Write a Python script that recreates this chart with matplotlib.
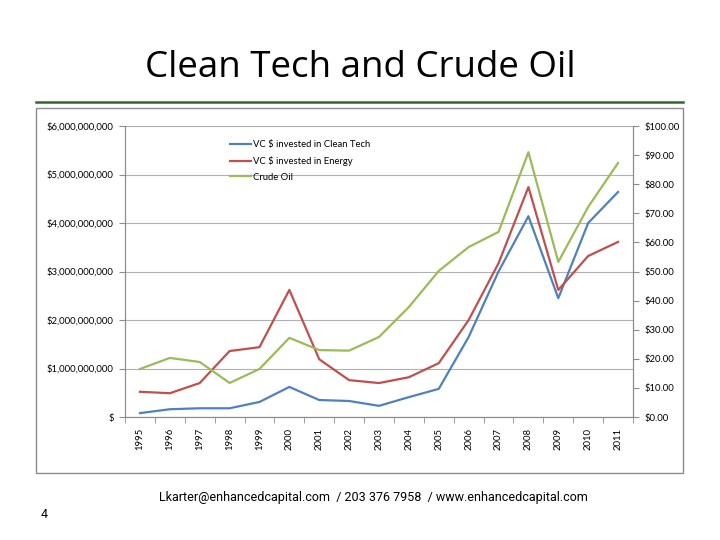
import matplotlib.pyplot as plt
from matplotlib.patches import Rectangle
from matplotlib.lines import Line2D
from matplotlib.ticker import FuncFormatter

years = [str(y) for y in range(1995, 2012)]
# VC $ invested, billions
clean_tech = [0.08, 0.16, 0.18, 0.18, 0.31, 0.62, 0.35, 0.33, 0.23, 0.41, 0.58,
              1.65, 3.0, 4.14, 2.45, 4.0, 4.64]
energy = [0.52, 0.49, 0.70, 1.36, 1.44, 2.62, 1.19, 0.76, 0.70, 0.82, 1.11,
          2.0, 3.17, 4.74, 2.62, 3.32, 3.61]
# crude oil price, $ per barrel
crude_oil = [16.5, 20.3, 18.9, 11.7, 16.5, 27.2, 23.0, 22.8, 27.5, 37.8, 50.2,
             58.4, 63.6, 91.0, 53.3, 72.2, 87.3]

plt.rcParams['font.family'] = ['Lato', 'DejaVu Sans']

fig = plt.figure(figsize=(7.2, 5.4), dpi=100)

# tytul slajdu
fig.text(360 / 720, 1 - 68 / 540, 'Clean Tech and Crude Oil', ha='center', va='center',
         fontsize=26.5, family=['Open Sans', 'DejaVu Sans'])
fig.add_artist(Line2D([36 / 720, 683 / 720], [1 - 102 / 540] * 2, color='#2E6B2A', lw=1.8))
fig.add_artist(Rectangle((36 / 720, 1 - 473 / 540), 647 / 720, 365 / 540,
                         fill=False, edgecolor='#8c8c8c', lw=1))

ax = fig.add_axes([125 / 720, 1 - 417 / 540, 508 / 720, 291 / 540])
x = list(range(len(years)))
ax.plot(x, [v * 1e9 for v in clean_tech], color='#4F81BD', lw=1.6, label='VC $ invested in Clean Tech')
ax.plot(x, [v * 1e9 for v in energy], color='#C0504D', lw=1.6, label='VC $ invested in Energy')
ax.set_xlim(-0.5, len(years) - 0.5)
ax.set_ylim(0, 6e9)
ax.set_yticks([i * 1e9 for i in range(7)])
ax.yaxis.set_major_formatter(FuncFormatter(lambda v, p: '$' if v == 0 else '${:,.0f}'.format(v)))
ax.grid(axis='y', color='#b0b0b0', lw=0.8)
ax.set_axisbelow(True)
ax.set_xticks(x)
ax.set_xticklabels(years, rotation=90)
ax.set_xticks([i + 0.5 for i in range(-1, len(years))], minor=True)
ax.tick_params(axis='x', which='major', length=0, pad=8, labelsize=6.8)
ax.tick_params(axis='x', which='minor', length=4, color='#8c8c8c')
ax.tick_params(axis='y', length=4, color='#8c8c8c', labelsize=6.8, pad=4)
ax.spines['top'].set_visible(False)
for s in ['left', 'bottom', 'right']:
    ax.spines[s].set_color('#8c8c8c')

ax2 = ax.twinx()
ax2.plot(x, crude_oil, color='#9BBB59', lw=1.6, label='Crude Oil')
ax2.set_ylim(0, 100)
ax2.set_yticks(range(0, 101, 10))
ax2.yaxis.set_major_formatter(FuncFormatter(lambda v, p: '${:.2f}'.format(v)))
ax2.tick_params(axis='y', length=4, color='#8c8c8c', labelsize=6.8, pad=4)
ax2.spines['top'].set_visible(False)
for s in ['left', 'bottom', 'right']:
    ax2.spines[s].set_color('#8c8c8c')

h1, l1 = ax.get_legend_handles_labels()
h2, l2 = ax2.get_legend_handles_labels()
ax2.legend(h1 + h2, l1 + l2, loc='upper left', bbox_to_anchor=(0.19, 0.98),
           frameon=False, fontsize=6.8, handlelength=2.2, handletextpad=0.2,
           labelspacing=0.7)

fig.text(373 / 720, 1 - 498 / 540,
         'Lkarter@enhancedcapital.com  / 203 376 7958  / www.enhancedcapital.com',
         ha='center', va='center', fontsize=9,
         family=['Liberation Sans Narrow', 'Roboto', 'DejaVu Sans'])
fig.text(44 / 720, 1 - 515 / 540, '4', ha='center', va='center', fontsize=9,
         family=['Liberation Sans Narrow', 'Roboto', 'DejaVu Sans'])

fig.savefig('out.png', dpi=100)
